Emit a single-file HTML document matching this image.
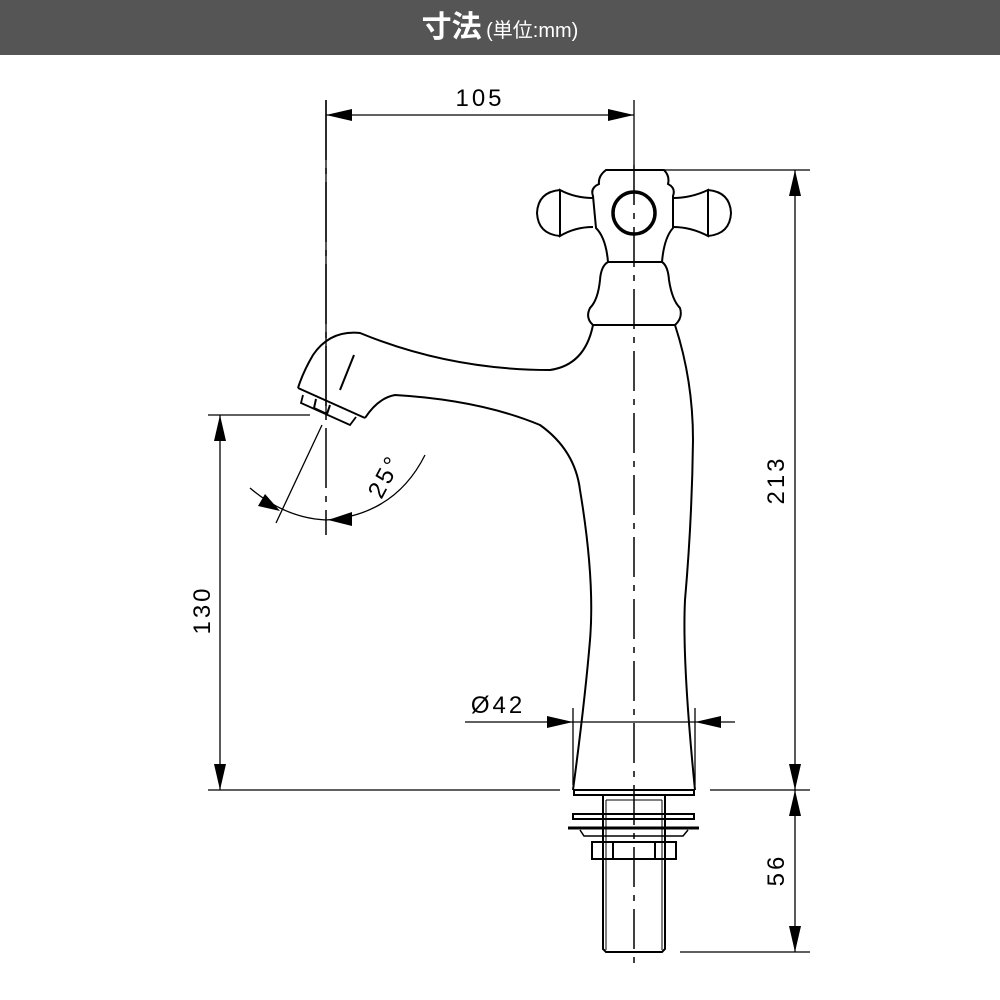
<!DOCTYPE html>
<html><head><meta charset="utf-8"><style>
html,body{margin:0;padding:0;background:#fff;width:1000px;height:1000px;overflow:hidden}
.hd{position:absolute;left:0;top:0;width:1000px;height:55px;background:#555;color:#fff;text-align:center;font-family:"Liberation Sans","Noto Sans CJK JP",sans-serif}
.hd b{font-size:30px;line-height:55px}
.hd span{font-size:20px}
svg{position:absolute;left:0;top:0}
</style></head><body>
<div class="hd"><b>寸法</b> <span>(単位:mm)</span></div>
<svg width="1000" height="1000" viewBox="0 0 1000 1000" font-family="Liberation Sans, sans-serif">
<g fill="none" stroke="#000" stroke-width="2">
<line x1="634" y1="165" x2="634" y2="965" stroke-dasharray="40,8,6,8" stroke-width="1.5"/>
<line x1="326" y1="100" x2="326" y2="535" stroke-dasharray="60,8,6,8" stroke-width="1.5"/>
<path d="M606,170 L664,170 Q670,176 668,184 Q676,188 673,196 L673,228 Q664,238 662,262 L608,262 Q606,238 596,228 L593,196 Q590,188 599,184 Q598,176 606,170 Z"/>
<circle cx="634" cy="213" r="21" stroke-width="3.5"/>
<path d="M593,198 Q575,198 560,190 L560,236 Q575,227 593,227"/>
<path d="M560,190 Q538,192 537,213 Q538,234 560,236"/>
<path d="M673,198 Q691,198 708,190 L708,236 Q691,227 673,227"/>
<path d="M708,190 Q730,192 731,213 Q730,234 708,236"/>
<path d="M608,262 L662,262 Q668,266 669,280 Q672,300 680,308 Q683,318 675,325 L593,325 Q585,318 590,308 Q598,300 600,280 Q601,266 608,262 Z"/>
<path d="M675,325 Q693,380 693,440 Q692,520 685,600 Q682,660 695,790"/>
<path d="M593,325 Q585,365 550,370 Q450,370 360,333 Q330,330 313,355 Q303,372 298,388"/>
<path d="M298,388 L365,418"/>
<path d="M365,418 Q378,398 395,395 Q480,400 540,425 Q575,450 580,490 Q595,580 590,640 Q585,700 573,790"/>
<line x1="340" y1="390" x2="354" y2="355"/>
<path d="M303,395 L301,403 L350,425 L356,417" stroke-width="1.8"/>
<path d="M316,399 L314,408 L327,414 L330,405"/>
<line x1="573" y1="790" x2="695" y2="790"/>
<rect x="574" y="790" width="120" height="5"/>
<path d="M603,795 L603,949 L606,952 L662,952 L665,949 L665,795"/>
<line x1="606" y1="800" x2="606" y2="950" stroke-width="1"/>
<line x1="662" y1="800" x2="662" y2="950" stroke-width="1"/>
<line x1="606" y1="800" x2="662" y2="800" stroke-width="1"/>
<rect x="573" y="814" width="121" height="5"/>
<line x1="568" y1="828" x2="699" y2="828" stroke-width="3"/>
<path d="M580,830 L584,836 L683,836 L688,830" stroke-width="1.5"/>
<rect x="592" y="842" width="84" height="17"/>
<line x1="613" y1="842" x2="613" y2="859"/>
<line x1="655" y1="842" x2="655" y2="859"/>
</g>
<g fill="none" stroke="#000" stroke-width="1.3">
<line x1="326" y1="100" x2="326" y2="415"/>
<line x1="634" y1="100" x2="634" y2="165"/>
<line x1="326" y1="115" x2="634" y2="115"/>
<line x1="640" y1="170" x2="810" y2="170"/>
<line x1="710" y1="790" x2="810" y2="790"/>
<line x1="680" y1="952" x2="810" y2="952"/>
<line x1="795" y1="170" x2="795" y2="952"/>
<line x1="208" y1="415" x2="310" y2="415"/>
<line x1="208" y1="790" x2="560" y2="790"/>
<line x1="220" y1="415" x2="220" y2="790"/>
<line x1="465" y1="722" x2="735" y2="722"/>
<line x1="573" y1="708" x2="573" y2="785"/>
<line x1="695" y1="708" x2="695" y2="785"/>
<line x1="322" y1="425" x2="276" y2="523"/>
<path d="M250,488 Q285,518 326,520 Q395,515 425,455"/>
</g>
<g fill="#000">
<polygon points="326,115 352,109 352,121"/>
<polygon points="634,115 608,109 608,121"/>
<polygon points="795,170 789,196 801,196"/>
<polygon points="795,790 789,764 801,764"/>
<polygon points="795,790 789,816 801,816"/>
<polygon points="795,952 789,926 801,926"/>
<polygon points="220,415 214,441 226,441"/>
<polygon points="220,790 214,764 226,764"/>
<polygon points="573,722 547,716 547,728"/>
<polygon points="695,722 721,716 721,728"/>
<polygon points="280,511 265,494 258,506"/>
<polygon points="328,520 352,512 352,526"/>
</g>
<g font-size="24" fill="#000" letter-spacing="3">
<text x="480" y="106" text-anchor="middle">105</text>
<text x="498" y="713" text-anchor="middle">Ø42</text>
<text transform="translate(784,480) rotate(-90)" text-anchor="middle">213</text>
<text transform="translate(784,870) rotate(-90)" text-anchor="middle">56</text>
<text transform="translate(210,610) rotate(-90)" text-anchor="middle">130</text>
<text transform="translate(392,480) rotate(-62)" text-anchor="middle">25°</text>
</g>
</svg>
</body></html>
